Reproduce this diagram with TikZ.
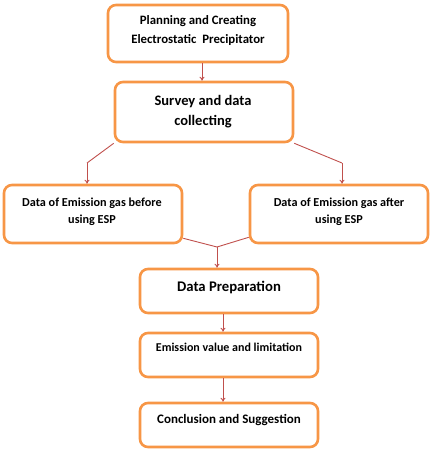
\documentclass[tikz,border=0pt]{standalone}
\usepackage{fontspec}
\setmainfont{Carlito}
\usetikzlibrary{arrows.meta}
\definecolor{boxorange}{HTML}{F79646}
\definecolor{linkred}{HTML}{C0504D}
\begin{document}
\begin{tikzpicture}[x=1pt,y=-1pt,
  stepbox/.style={draw=boxorange, line width=2.6pt, rounded corners=8pt, fill=white, inner sep=0pt},
  txt/.style={font=\bfseries, align=center, inner sep=0pt},
  link/.style={draw=linkred, line width=0.9pt, -{To[length=4pt,width=5pt]}},
  seg/.style={draw=linkred, line width=0.9pt}]
\useasboundingbox (0,0) rectangle (432,452);
% boxes
\node[stepbox, minimum width=180pt, minimum height=57pt] (b1) at (198,33.5) {};
\node[stepbox, minimum width=178pt, minimum height=60pt] (b2) at (204,112) {};
\node[stepbox, minimum width=178pt, minimum height=58pt] (b3) at (93,214) {};
\node[stepbox, minimum width=178pt, minimum height=58pt] (b4) at (339,214) {};
\node[stepbox, minimum width=178pt, minimum height=44pt] (b5) at (229,291) {};
\node[stepbox, minimum width=178pt, minimum height=44pt] (b6) at (229,355) {};
\node[stepbox, minimum width=178pt, minimum height=44pt] (b7) at (229,425) {};
% texts
\node[txt, font=\bfseries\fontsize{12.8}{19}\selectfont] (t1) at (198,31) {Planning and Creating\\Electrostatic\ \ Precipitator};
\node[txt, font=\bfseries\fontsize{14.5}{20}\selectfont] (t2) at (203,112) {Survey and data\\collecting};
\node[txt, font=\bfseries\fontsize{12.2}{17}\selectfont] (t3) at (92,211.5) {Data of Emission gas before\\using ESP};
\node[txt, font=\bfseries\fontsize{12.2}{17}\selectfont] (t4) at (339,211.5) {Data of Emission gas after\\using ESP};
\node[txt, font=\bfseries\fontsize{14.7}{16}\selectfont] (t5) at (229,287) {Data Preparation};
\node[txt, font=\bfseries\fontsize{12}{14}\selectfont] (t6) at (229,347) {Emission value and limitation};
\node[txt, font=\bfseries\fontsize{13}{14}\selectfont] (t7) at (229,420) {Conclusion and Suggestion};
% connectors
\coordinate (lk) at (87,163);
\coordinate (rk) at (342,163);
\coordinate (mj) at (217,247);
\draw[link] (b1.south -| 202,0) -- (b2.north -| 202,0);
\draw[seg] (b2.south west) -- (lk);
\draw[link] (lk) -- (b3.north -| lk);
\draw[seg] (b2.south east) -- (rk);
\draw[link] (rk) -- (b4.north -| rk);
\draw[seg] (b3.south east) ++(0,-6) -- (mj);
\draw[seg] (b4.south west) ++(0,-7) -- (mj);
\draw[link] (mj) -- (b5.north -| mj);
\draw[link] (b5.south -| 223,0) -- (b6.north -| 223,0);
\draw[link] (b6.south -| 223,0) -- (b7.north -| 223,0);
\end{tikzpicture}
\end{document}
